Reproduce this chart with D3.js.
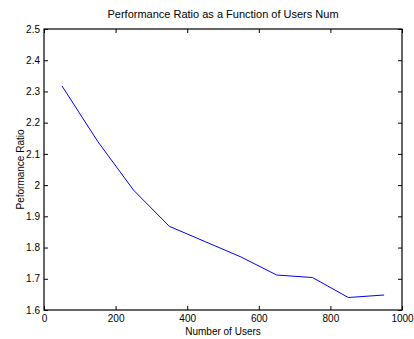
<!DOCTYPE html>
<meta charset="utf-8">
<style>
body{margin:0;background:#fff;}
text{font-family:"Liberation Sans",Arial,sans-serif;font-size:10px;fill:#000;}
.axis path,.axis line{stroke:#000;}
</style>
<body>
<script src="https://d3js.org/d3.v7.min.js"></script>
<script>

var users=[50,150,250,350,450,550,650,750,850,950];
var ratio=[2.318,2.14,1.984,1.868,1.819,1.77,1.712,1.704,1.640,1.648];
var xTicks=[0,200,400,600,800,1000];
var yTicks=[1.6,1.7,1.8,1.9,2,2.1,2.2,2.3,2.4,2.5];

var W=414,H=339;
var m={left:44,right:12,top:29,bottom:29};

var svg=d3.select("body").append("svg").attr("width",W).attr("height",H);

var x=d3.scaleLinear().domain([0,1000]).range([m.left,W-m.right]);
var y=d3.scaleLinear().domain([1.6,2.5]).range([H-m.bottom,m.top]);

// box
svg.append("rect")
  .attr("x",x(0)).attr("y",y(2.5))
  .attr("width",x(1000)-x(0)).attr("height",y(1.6)-y(2.5))
  .attr("fill","none").attr("stroke","#000").attr("stroke-width",1.2);

svg.append("g").attr("class","axis")
  .attr("transform","translate(0,"+y(1.6)+")")
  .call(d3.axisBottom(x).tickValues(xTicks).tickSize(-4).tickPadding(5).tickFormat(d3.format("d")))
  .call(g=>g.select(".domain").remove());
svg.append("g").attr("class","axis")
  .attr("transform","translate(0,"+y(2.5)+")")
  .call(d3.axisTop(x).tickValues(xTicks).tickSize(-4).tickFormat(""))
  .call(g=>g.select(".domain").remove());
svg.append("g").attr("class","axis")
  .attr("transform","translate("+x(0)+",0)")
  .call(d3.axisLeft(y).tickValues(yTicks).tickSize(-4).tickPadding(4).tickFormat(d=>d3.format("")(+d.toFixed(1))))
  .call(g=>g.select(".domain").remove());
svg.append("g").attr("class","axis")
  .attr("transform","translate("+x(1000)+",0)")
  .call(d3.axisRight(y).tickValues(yTicks).tickSize(-4).tickFormat(""))
  .call(g=>g.select(".domain").remove());

svg.selectAll(".axis text").style("font-size","10px").attr("fill","#000");

svg.append("path")
  .datum(users.map((u,i)=>[u,ratio[i]]))
  .attr("fill","none").attr("stroke","#0000ff").attr("stroke-width",1)
  .attr("d",d3.line().x(d=>x(d[0])).y(d=>y(d[1])));

svg.append("text").attr("x",(x(0)+x(1000))/2).attr("y",18)
  .attr("text-anchor","middle").style("font-size","11px")
  .text("Performance Ratio as a Function of Users Num");
svg.append("text").attr("x",(x(0)+x(1000))/2).attr("y",335)
  .attr("text-anchor","middle").text("Number of Users");
svg.append("text").attr("transform","translate(24,"+(y(1.6)+y(2.5))/2+") rotate(-90)")
  .attr("text-anchor","middle").text("Peformance Ratio");
</script>
</body>
</html>
